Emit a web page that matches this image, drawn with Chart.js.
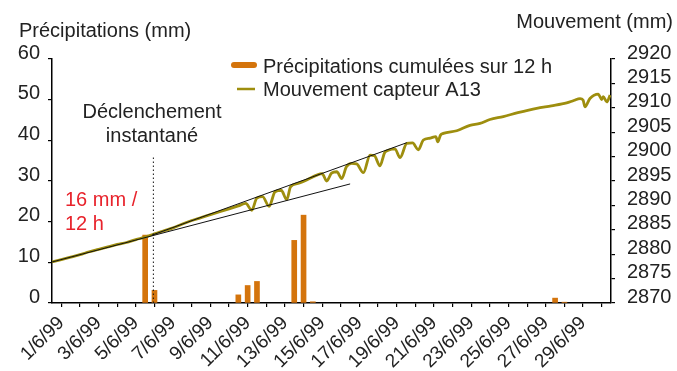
<!DOCTYPE html>
<html>
<head>
<meta charset="utf-8">
<script src="https://cdn.jsdelivr.net/npm/chart.js@4"></script>
<style>
  body { margin: 0; background: #fff; }
  canvas { display: block; }
</style>
</head>
<body>
<canvas id="chart" width="677" height="371"></canvas>
<script>
// days since 1/6/99 00:00
const xTickLabels = ["1/6/99", "3/6/99", "5/6/99", "7/6/99", "9/6/99", "11/6/99", "13/6/99", "15/6/99",
  "17/6/99", "19/6/99", "21/6/99", "23/6/99", "25/6/99", "27/6/99", "29/6/99"];

// precipitation, 12 h sums (mm)
const precipDays = [5, 5.5, 10, 10.5, 11, 13, 13.5, 14, 27, 27.5];
const precipValues = [16.7, 3.1, 2.0, 4.3, 5.3, 15.4, 21.6, 0.3, 1.2, 0.2];

// sensor A13 displacement (mm)
const moveDays = [0, 0.5, 1, 1.5, 2, 2.5, 3, 3.5, 4, 4.5, 5, 5.5, 6, 6.5, 7, 7.5, 8, 8.5, 9, 9.5,
  10, 10.4, 10.72, 10.99, 11.3, 11.65, 11.97, 12.3, 12.6, 12.8, 13.2, 13.67, 14.21, 14.5, 14.74,
  15.0, 15.28, 15.55, 15.8, 16.08, 16.35, 16.71, 17.07, 17.3, 17.6, 17.85, 18.05, 18.4, 18.68,
  19.04, 19.35, 19.66, 19.93, 20.3, 20.6, 20.7, 20.85, 21.0, 21.72, 22.43, 22.97, 23.5, 24.22,
  25.0, 26.01, 26.8, 27.62, 28.0, 28.34, 28.5, 28.6, 28.87, 29.32, 29.5, 29.59, 29.77, 29.95];
const moveValues = [2878.4, 2878.9, 2879.4, 2879.9, 2880.5, 2881.0, 2881.5, 2882.0, 2882.4, 2883.0,
  2883.5, 2884.2, 2884.8, 2885.4, 2886.2, 2886.9, 2887.5, 2888.1, 2888.7, 2889.3,
  2889.9, 2890.4, 2889.0, 2891.5, 2891.8, 2889.8, 2892.8, 2893.1, 2891.2, 2893.8, 2894.5, 2895.2,
  2896.2, 2896.5, 2895.0, 2896.6, 2896.9, 2895.5, 2897.9, 2898.6, 2898.5, 2896.7, 2900.3, 2900.2,
  2898.1, 2900.8, 2901.3, 2901.6, 2899.8, 2902.7, 2902.8, 2901.4, 2903.4, 2903.8, 2904.1, 2903.0,
  2904.4, 2904.75, 2905.3, 2906.4, 2906.8, 2907.6, 2908.2, 2909.0, 2909.9, 2910.4, 2911.0, 2911.5,
  2911.9, 2911.6, 2910.2, 2911.9, 2912.8, 2911.7, 2912.3, 2911.2, 2912.6];

// straight guide lines (mm, right axis)
const trendLowDays = [0, 16];
const trendLowValues = [2878.4, 2894.4];
const trendHighDays = [5.36, 19.04];
const trendHighValues = [2883.9, 2902.85];

// trigger marker (left axis)
const triggerDays = [5.44, 5.44];
const triggerValues = [0, 36.4];

const FONT = "'Liberation Sans', Arial, Helvetica, sans-serif";
const ORANGE = "#d4740c";
const OLIVE = "#9e8e0e";

function pts(xs, ys) {
  return xs.map((x, i) => ({ x: x, y: ys[i] }));
}

const textPlugin = {
  id: "texts",
  afterDraw(chart) {
    const c = chart.ctx;
    c.save();
    c.font = "20px " + FONT;
    c.fillStyle = "#222";
    c.textBaseline = "alphabetic";
    c.textAlign = "left";
    c.fillText("Précipitations (mm)", 19, 37);
    c.textAlign = "right";
    c.fillText("Mouvement (mm)", 673, 28);
    c.textAlign = "center";
    c.fillText("Déclenchement", 152, 118);
    c.fillText("instantané", 152, 142);
    c.fillStyle = "#e8232c";
    c.textAlign = "left";
    c.fillText("16 mm /", 65, 206);
    c.fillText("12 h", 65, 230);

    // legend
    c.lineCap = "round";
    c.strokeStyle = ORANGE;
    c.lineWidth = 6;
    c.beginPath(); c.moveTo(234, 65); c.lineTo(254, 65); c.stroke();
    c.lineCap = "butt";
    c.strokeStyle = OLIVE;
    c.lineWidth = 2.5;
    c.beginPath(); c.moveTo(237, 89); c.lineTo(255, 89); c.stroke();
    c.fillStyle = "#222";
    c.textBaseline = "middle";
    c.fillText("Précipitations cumulées sur 12 h", 263, 67);
    c.fillText("Mouvement capteur A13", 263, 90);
    c.restore();
  }
};

const axisCommon = {
  border: { color: "#000", width: 1.5 },
  grid: { drawOnChartArea: false, color: "#000", tickLength: 4, lineWidth: 1.2 },
};

new Chart(document.getElementById("chart"), {
  type: "line",
  data: {
    datasets: [
      {
        type: "bar",
        data: pts(precipDays, precipValues),
        xAxisID: "x",
        yAxisID: "yL",
        backgroundColor: ORANGE,
        barThickness: 5,
        order: 3,
      },
      {
        data: pts(moveDays, moveValues),
        xAxisID: "x",
        yAxisID: "yR",
        borderColor: OLIVE,
        borderWidth: 2.8,
        pointRadius: 0,
        cubicInterpolationMode: "monotone",
        order: 1,
      },
      {
        data: pts(trendLowDays, trendLowValues),
        xAxisID: "x",
        yAxisID: "yR",
        borderColor: "#111",
        borderWidth: 1,
        pointRadius: 0,
        order: 0,
      },
      {
        data: pts(trendHighDays, trendHighValues),
        xAxisID: "x",
        yAxisID: "yR",
        borderColor: "#111",
        borderWidth: 1,
        pointRadius: 0,
        order: 0,
      },
      {
        data: pts(triggerDays, triggerValues),
        xAxisID: "x",
        yAxisID: "yL",
        borderColor: "#111",
        borderWidth: 1,
        borderDash: [1.5, 2.5],
        pointRadius: 0,
        order: 0,
      },
    ],
  },
  options: {
    responsive: false,
    animation: false,
    layout: { padding: { top: 59, left: 0, right: 0, bottom: 0 } },
    plugins: { legend: { display: false }, tooltip: { enabled: false } },
    scales: {
      x: {
        ...axisCommon,
        type: "linear",
        position: "bottom",
        weight: 0,
        min: 0,
        max: 30,
        offset: false,
        ticks: { display: false },
        afterBuildTicks: (s) => {
          s.ticks = Array.from({ length: 31 }, (_, i) => ({ value: i }));
        },
        afterFit: (s) => { s.height = 5; },
      },
      xl: {
        type: "linear",
        position: "bottom",
        weight: 1,
        min: 0,
        max: 30,
        offset: false,
        border: { display: false },
        grid: { display: false, drawTicks: false },
        ticks: {
          autoSkip: false,
          minRotation: 45,
          maxRotation: 45,
          padding: 4,
          color: "#222",
          font: { family: FONT, size: 19 },
          callback: (v, i) => xTickLabels[i],
        },
        afterBuildTicks: (s) => {
          s.ticks = xTickLabels.map((_, i) => ({ value: 0.5 + 2 * i }));
        },
        afterFit: (s) => { s.height = 63; },
      },
      yL: {
        ...axisCommon,
        type: "linear",
        position: "left",
        min: 0,
        max: 60,
        ticks: {
          stepSize: 10,
          padding: 8,
          labelOffset: -6,
          color: "#222",
          font: { family: FONT, size: 20 },
        },
        afterFit: (s) => { s.width = 52; },
      },
      yR: {
        ...axisCommon,
        type: "linear",
        position: "right",
        min: 2870,
        max: 2920,
        ticks: {
          stepSize: 5,
          autoSkip: false,
          padding: 12,
          labelOffset: -6,
          color: "#222",
          font: { family: FONT, size: 20 },
          callback: (v) => String(v),
        },
        afterFit: (s) => { s.width = 66; },
      },
    },
  },
  plugins: [textPlugin],
});
</script>
</body>
</html>
